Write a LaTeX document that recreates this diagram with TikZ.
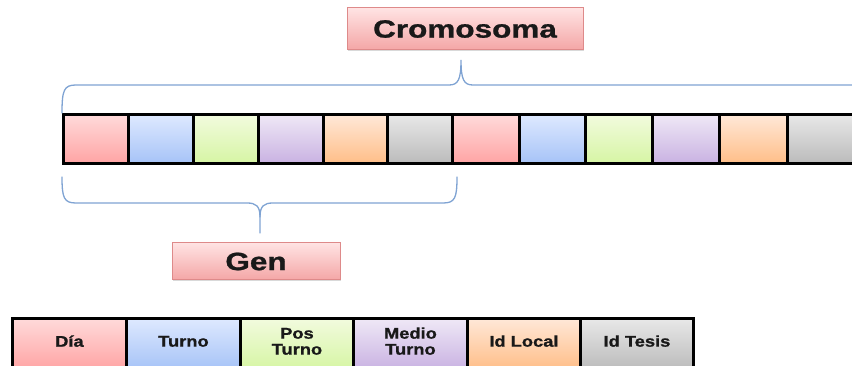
\documentclass[tikz,border=0pt]{standalone}
\usepackage{fontspec}
\setmainfont{Liberation Sans}[BoldFeatures={FakeBold=0.9}]
\usepackage{graphicx}
\usetikzlibrary{shadows}
% gene colours: top / bottom of each gradient
\definecolor{pkT}{HTML}{FFDADA}\definecolor{pkB}{HTML}{FFA4A4}
\definecolor{blT}{HTML}{DEE9FF}\definecolor{blB}{HTML}{A6C3F7}
\definecolor{grT}{HTML}{F2FBDE}\definecolor{grB}{HTML}{D6F5A4}
\definecolor{puT}{HTML}{EFE8F6}\definecolor{puB}{HTML}{C9B2E2}
\definecolor{orT}{HTML}{FFE8D8}\definecolor{orB}{HTML}{FFBE88}
\definecolor{gyT}{HTML}{E8E8E8}\definecolor{gyB}{HTML}{BBBBBB}
\definecolor{braceblue}{HTML}{7FA3D3}
\definecolor{labelT}{HTML}{FFE3E3}\definecolor{labelB}{HTML}{F4A6A6}
\definecolor{labelEdge}{HTML}{DE8A8A}
\newcommand{\bigword}[1]{{\fontsize{25}{30}\selectfont\bfseries\scalebox{1.26}[1]{#1}}}
\newcommand{\fieldword}[1]{{\fontsize{15.5}{16}\selectfont\bfseries\scalebox{1.18}[1]{\begin{tabular}{@{}c@{}}#1\end{tabular}}}}
\begin{document}
\begin{tikzpicture}[x=1pt,y=-1pt,
  cell/.style={draw=black, line width=2.9pt, anchor=north west, inner sep=0pt,
               drop shadow={opacity=0.25, shadow xshift=0.8pt, shadow yshift=-1.2pt}},
  pk/.style={top color=pkT, bottom color=pkB},
  bl/.style={top color=blT, bottom color=blB},
  gr/.style={top color=grT, bottom color=grB},
  pu/.style={top color=puT, bottom color=puB},
  or/.style={top color=orT, bottom color=orB},
  gy/.style={top color=gyT, bottom color=gyB},
  label/.style={draw=labelEdge, line width=1pt, top color=labelT, bottom color=labelB,
                inner sep=0pt, text=black!90,
                drop shadow={opacity=0.3, shadow xshift=1pt, shadow yshift=-1.5pt}},
  brace/.style={draw=braceblue, line width=1.3pt, line cap=round}]
\useasboundingbox (0,0) rectangle (852,366);
\clip (0,0) rectangle (852,366);

% chromosome: two genes of six fields each
\foreach \xa/\xb/\c [count=\i] in {62/127/pk,127/192/bl,192/257/gr,257/322/pu,322/386/or,386/451/gy,
                                  451/518/pk,518/584/bl,584/651/gr,651/718/pu,718/786/or,786/856/gy}
  \node[cell,\c, minimum width={\xb-\xa}, minimum height=49] (t\i) at (\xa,113) {};

% labels
\node[label, minimum width=236, minimum height=42] (crom) at (465,29) {\bigword{Cromosoma}};
\node[label, minimum width=168, minimum height=37] (gen) at (256,261.5) {\bigword{Gen}};

% brace over the whole chromosome
\coordinate (ctip) at (461,60);
\draw[brace] (t1.north west) .. controls (62,90) and (64,85) .. (76,85) -- (449,85)
  .. controls (458,85) and (461,80) .. (ctip)
  .. controls (461,80) and (464,85) .. (473,85) -- (860,85);

% brace under the first gene
\coordinate (gtip) at (260,233);
\coordinate (gmid) at (260,217);
\draw[brace] (62,177) .. controls (62,198) and (64,203) .. (76,203) -- (247,203)
  .. controls (256,203) and (260,206) .. (gmid) -- (gtip);
\draw[brace] (gmid) .. controls (260,206) and (264,203) .. (273,203) -- (443,203)
  .. controls (455,203) and (457,198) .. (457,177);

% fields of one gene
\foreach \xa/\xb/\c [count=\i] in {11/125/pk,125/239/bl,239/352/gr,352/466/pu,466/579/or,579/692/gy}
  \node[cell,\c, minimum width={\xb-\xa}, minimum height=51] (f\i) at (\xa,317) {};
\foreach \t [count=\i] in {D\'ia,Turno,{Pos\\Turno},{Medio\\Turno},{Id Local},{Id Tesis}}
  \node[text=black!90] (ft\i) at ([yshift=0.5pt]f\i.center) {\fieldword{\t}};
\end{tikzpicture}
\end{document}
